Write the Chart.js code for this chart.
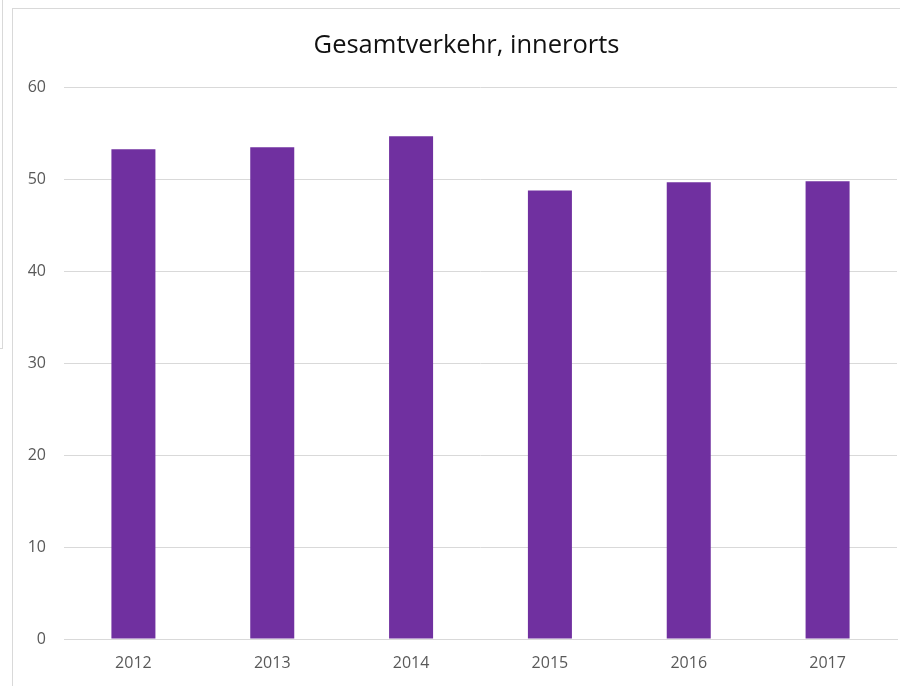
<!DOCTYPE html>
<html>
<head>
<title>Gesamtverkehr, innerorts</title>
<script src="https://cdn.jsdelivr.net/npm/chart.js@4.4.1/dist/chart.umd.min.js"></script>
<style>
body { margin: 0; width: 900px; height: 686px; overflow: hidden; position: relative; background: #fff; }
.leftover { position: absolute; left: -10px; top: -10px; width: 12px; height: 358px; border-right: 1px solid #d9d9d9; border-bottom: 1px solid #d9d9d9; }
.frame { position: absolute; left: 12px; top: 8px; width: 907px; height: 700px; border-left: 1px solid #d9d9d9; border-top: 1px solid #d9d9d9; }
.chart-box { position: absolute; left: 0; top: 0; width: 907px; height: 677px; }
</style>
</head>
<body>
<div class="leftover"></div>
<div class="frame">
  <div class="chart-box"><canvas id="bars"></canvas></div>
</div>
<script>
// data
var years = ["2012", "2013", "2014", "2015", "2016", "2017"];
var values = [53.3, 53.5, 54.7, 48.8, 49.7, 49.8];
var yTicks = [0, 10, 20, 30, 40, 50, 60];

var grey = "#595959";
var font = "'Open Sans', 'Noto Sans', sans-serif";

new Chart(document.getElementById("bars"), {
  type: "bar",
  data: {
    labels: years,
    datasets: [{
      label: "Gesamtverkehr",
      data: values,
      backgroundColor: "#7030a0",
      borderWidth: 0,
      categoryPercentage: 1,
      barPercentage: 0.317
    }]
  },
  options: {
    responsive: true,
    maintainAspectRatio: false,
    animation: false,
    layout: { padding: 0 },
    plugins: {
      legend: { display: false },
      tooltip: { enabled: false },
      title: {
        display: true,
        text: "Gesamtverkehr, innerorts",
        color: "#111",
        font: { family: font, size: 25.5, weight: "normal" },
        padding: { top: 21, bottom: 27 }
      }
    },
    scales: {
      x: {
        grid: { display: false, drawTicks: false },
        border: { display: true, color: "#d9d9d9", width: 1 },
        ticks: { color: grey, font: { family: font, size: 16 }, padding: 15 },
        afterFit: function (s) { s.height = 47; }
      },
      y: {
        min: 0,
        max: 60,
        afterBuildTicks: function (s) { s.ticks = yTicks.map(function (v) { return { value: v }; }); },
        grid: { color: "#d9d9d9", lineWidth: 1, drawTicks: false },
        border: { display: false },
        ticks: { color: grey, font: { family: font, size: 16 }, padding: 18 },
        afterFit: function (s) { s.width = 51; }
      },
      // empty right-hand spacer so the plot ends where the original does
      spacer: {
        position: "right",
        min: 0,
        max: 60,
        grid: { display: false },
        border: { display: false },
        ticks: { display: false },
        afterFit: function (s) { s.width = 23; }
      }
    }
  }
});
</script>
</body>
</html>
